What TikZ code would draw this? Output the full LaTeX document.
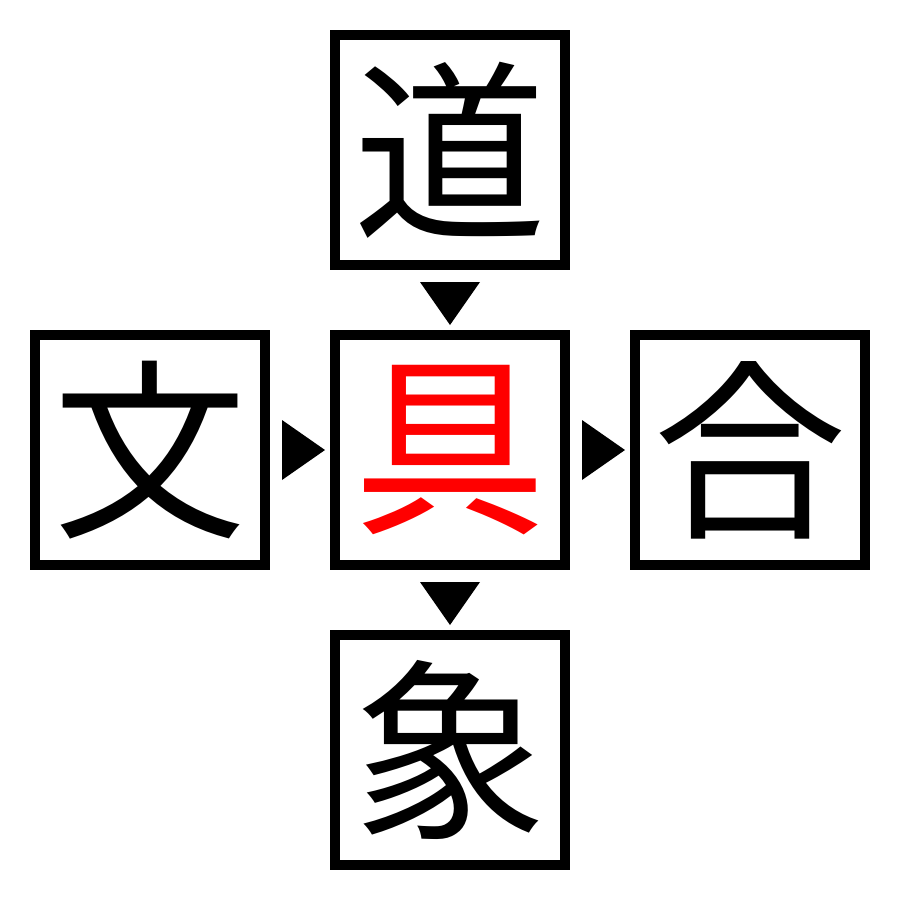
\documentclass[tikz,border=0pt]{standalone}
\usepackage{fontspec}
\newfontfamily\cjk{Noto Sans CJK JP}
\usetikzlibrary{positioning}
\tikzset{
  kanji/.style={draw, line width=0.1cm, minimum size=2.3cm, inner sep=0pt,
    font=\cjk\fontsize{55}{55}\selectfont},
  pointer/.style={fill=black}
}
\begin{document}
\begin{tikzpicture} [node distance = 3cm]
    \useasboundingbox (0,0) rectangle (9,-9);
    % place nodes
    \node [kanji] (gu) at (4.5,-4.5) {\textcolor{red}{具}};
    \node [kanji, above of = gu] (dou) {道};
    \node [kanji, left of = gu] (bun) {文};
    \node [kanji, right of = gu] (gou) {合};
    \node [kanji, below of = gu] (shou) {象};
    % draw pointers
    \fill [pointer] (dou.south) ++(-0.3,-0.12) -- ++(0.6,0) -- ++(-0.3,-0.43) -- cycle;
    \fill [pointer] (gu.south) ++(-0.3,-0.12) -- ++(0.6,0) -- ++(-0.3,-0.43) -- cycle;
    \fill [pointer] (bun.east) ++(0.12,0.3) -- ++(0,-0.6) -- ++(0.43,0.3) -- cycle;
    \fill [pointer] (gu.east) ++(0.12,0.3) -- ++(0,-0.6) -- ++(0.43,0.3) -- cycle;
\end{tikzpicture}
\end{document}
